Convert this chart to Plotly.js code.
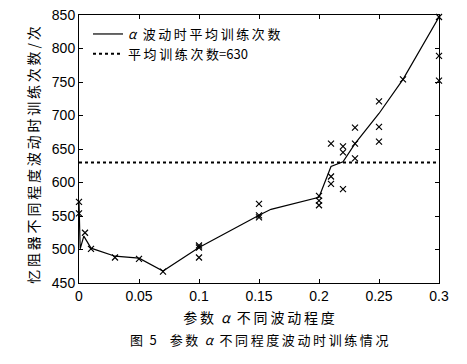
<!DOCTYPE html>
<html>
<head>
<meta charset="utf-8">
<script src="https://cdn.plot.ly/plotly-3.0.1.min.js"></script>
<style>
html,body{margin:0;padding:0;background:#fff;}
#chart{width:467px;height:364px;}
</style>
</head>
<body>
<div id="chart"></div>
<script>
// Mean training count line
const lineX = [0, 0.001, 0.004, 0.01, 0.03, 0.05, 0.07, 0.1, 0.15, 0.16, 0.2, 0.21, 0.22, 0.23, 0.25, 0.27, 0.3];
const lineY = [571, 501, 520, 502, 490, 487, 468, 503, 551, 560, 578, 624, 631, 658, 703, 754, 847];

// Individual runs (x markers)
const runX = [0, 0, 0.005, 0.01, 0.03, 0.05, 0.07,
  0.1, 0.1, 0.1, 0.15, 0.15, 0.15, 0.2, 0.2, 0.2,
  0.21, 0.21, 0.21, 0.22, 0.22, 0.22, 0.23, 0.23, 0.23,
  0.25, 0.25, 0.25, 0.27, 0.3, 0.3, 0.3];
const runY = [571, 554, 525, 501, 488, 486, 467,
  503, 506, 488, 568, 548, 551, 580, 573, 566,
  658, 609, 598, 654, 645, 590, 682, 658, 636,
  721, 683, 661, 754, 847, 789, 752];

const avgX = [0, 0.3];
const avgValue = 630;

const xTicks = [0, 0.05, 0.1, 0.15, 0.2, 0.25, 0.3];
const xTickText = ["0", "0.05", "0.1", "0.15", "0.2", "0.25", "0.3"];
const yTicks = [450, 500, 550, 600, 650, 700, 750, 800, 850];

const sp = "\u2009";
const en = "\u2002";
function spaced(s){ return s.split("").join(sp); }

const cjk = '"Noto Sans CJK SC", "Noto Sans", sans-serif';
const num = '"Liberation Sans", Arial, sans-serif';

const traces = [
  {
    x: lineX, y: lineY, type: 'scatter', mode: 'lines',
    name: '<i>α</i>' + en + spaced('波动时平均训练次数'),
    line: {color: '#000', width: 1.2}
  },
  {
    x: avgX, y: avgX.map(() => avgValue), type: 'scatter', mode: 'lines',
    name: spaced('平均训练次数') + '=630',
    line: {color: '#000', width: 2, dash: 'dot'}
  },
  {
    x: runX, y: runY, type: 'scatter', mode: 'markers',
    showlegend: false, cliponaxis: false,
    marker: {symbol: 'x-thin-open', size: 6, color: '#000', line: {color: '#000', width: 1.2}}
  }
];

const layout = {
  width: 467, height: 364,
  margin: {l: 79, r: 28, t: 15, b: 81},
  paper_bgcolor: '#fff', plot_bgcolor: '#fff',
  showlegend: true,
  legend: {
    x: 0.025, y: 0.985, xanchor: 'left', yanchor: 'top',
    bgcolor: 'rgba(0,0,0,0)', borderwidth: 0,
    font: {family: cjk, size: 13, color: '#000'},
    tracegroupgap: 0
  },
  xaxis: {
    range: [0, 0.3], tickvals: xTicks, ticktext: xTickText,
    showline: true, linecolor: '#000', linewidth: 1, mirror: 'ticks',
    ticks: 'inside', ticklen: 4, tickcolor: '#000',
    showgrid: false, zeroline: false,
    tickfont: {family: num, size: 14, color: '#000'},
    title: {text: spaced('参数') + en + '<i>α</i>' + en + spaced('不同波动程度'), font: {family: cjk, size: 14, color: '#000'}, standoff: 10}
  },
  yaxis: {
    range: [450, 850], tickvals: yTicks,
    showline: true, linecolor: '#000', linewidth: 1, mirror: 'ticks',
    ticks: 'inside', ticklen: 4, tickcolor: '#000',
    showgrid: false, zeroline: false,
    tickfont: {family: num, size: 14, color: '#000'}
  },
  annotations: [{
    xref: 'paper', yref: 'paper', x: -0.128, y: 0.478, xanchor: 'center', yanchor: 'middle',
    showarrow: false, textangle: -90,
    text: spaced('忆阻器不同程度波动时训练次数/次'),
    font: {family: cjk, size: 14, color: '#000'}
  }, {
    xref: 'paper', yref: 'paper', x: 0.5, y: -0.168, xanchor: 'center', yanchor: 'top',
    showarrow: false,
    text: spaced('图') + en + '5' + en + en + spaced('参数') + en + '<i>α</i>' + en + spaced('不同程度波动时训练情况'),
    font: {family: cjk, size: 13, color: '#000'}
  }]
};

Plotly.newPlot('chart', traces, layout, {displayModeBar: false, staticPlot: true});
</script>
</body>
</html>
